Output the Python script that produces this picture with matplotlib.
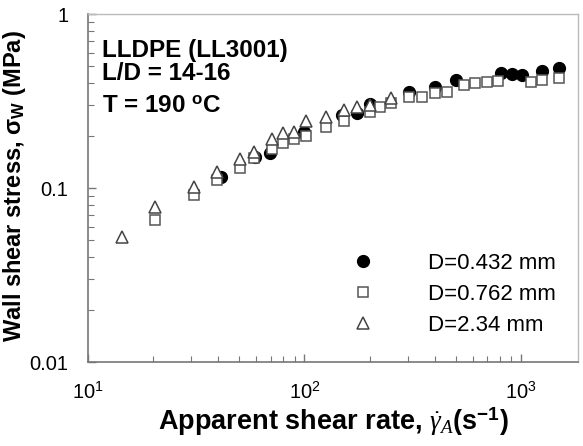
import matplotlib
matplotlib.use("Agg")
import matplotlib.pyplot as plt
from matplotlib.ticker import LogLocator, NullFormatter

plt.rcParams['font.family'] = ['Liberation Sans', 'DejaVu Sans']
plt.rcParams['mathtext.fontset'] = 'custom'
plt.rcParams['mathtext.it'] = 'Liberation Serif:italic'
plt.rcParams['mathtext.rm'] = 'Liberation Sans'
plt.rcParams['mathtext.bf'] = 'Liberation Sans:bold'

# D = 0.432 mm (filled circles)
x_d0432 = [41, 59, 69, 100, 149, 175, 200, 303, 403, 502, 809, 908, 1012, 1250, 1507]
y_d0432 = [0.116, 0.150, 0.158, 0.210, 0.262, 0.270, 0.305, 0.358, 0.379, 0.418,
           0.456, 0.452, 0.446, 0.472, 0.487]

# D = 0.762 mm (open squares)
x_d0762 = [20.4, 30.8, 39.3, 50.2, 58.7, 71, 79.8, 89.3, 102, 126, 153, 200, 223, 251,
           303, 349, 403, 456, 547, 615, 701, 788, 1112, 1250, 1507]
y_d0762 = [0.0655, 0.091, 0.111, 0.131, 0.148, 0.167, 0.182, 0.190, 0.200, 0.225, 0.244,
           0.275, 0.291, 0.307, 0.335, 0.335, 0.350, 0.358, 0.391, 0.403, 0.408, 0.414,
           0.408, 0.418, 0.427]

# D = 2.34 mm (open triangles)
x_d234 = [14.3, 20.4, 30.8, 39.3, 50.2, 58.7, 71, 79.8, 89.3, 102, 126, 153, 175, 200, 251]
y_d234 = [0.0525, 0.0775, 0.101, 0.124, 0.146, 0.162, 0.190, 0.206, 0.211, 0.244, 0.257,
          0.281, 0.291, 0.300, 0.328]

labels = ['D=0.432 mm', 'D=0.762 mm', 'D=2.34 mm']

fig = plt.figure(figsize=(5.83, 4.46), dpi=100)
ax = fig.add_axes([88/583, 1-362/446, 490/583, 348/446])

ax.plot(x_d0432, y_d0432, 'o', ms=8.5, mfc='black', mec='black', ls='none',
        label=labels[0], zorder=2)
ax.plot(x_d0762, y_d0762, 's', ms=7.8, mfc='white', mec='#555555', mew=1.1, ls='none',
        label=labels[1], zorder=3)
ax.plot(x_d234, y_d234, '^', ms=8.5, mfc='white', mec='#444444', mew=1.1, ls='none',
        label=labels[2], zorder=4)

ax.set_xscale('log')
ax.set_yscale('log')
ax.set_xlim(10, 1837)
ax.set_ylim(0.01, 1)

ax.set_yticks([0.01, 0.1, 1])
ax.set_yticklabels(['0.01', '0.1', '1'])
ax.set_xticks([10, 100, 1000])
ax.set_xticklabels(['10$^{\\mathregular{1}}$', '10$^{\\mathregular{2}}$', '10$^{\\mathregular{3}}$'])
ax.xaxis.set_minor_locator(LogLocator(base=10, subs=range(2, 10)))
ax.yaxis.set_minor_locator(LogLocator(base=10, subs=range(2, 10)))
ax.xaxis.set_minor_formatter(NullFormatter())
ax.yaxis.set_minor_formatter(NullFormatter())

ax.tick_params(which='major', direction='in', length=6, width=1, color='#777777',
               labelsize=14.5)
ax.tick_params(which='minor', direction='in', length=4, width=0.8, color='#777777')
ax.tick_params(axis='y', which='major', pad=14)
ax.tick_params(axis='x', which='major', pad=14)

for s in ['left', 'bottom']:
    ax.spines[s].set_color('#777777')
    ax.spines[s].set_linewidth(1.2)
for s in ['top', 'right']:
    ax.spines[s].set_color('#bbbbbb')
    ax.spines[s].set_linewidth(1.0)

ax.set_ylabel('Wall shear stress, σ$_{\\mathregular{W}}$ (MPa)', fontsize=17,
              fontweight='bold', va='center')
ax.yaxis.set_label_coords(-0.151, 0.504)
ax.set_xlabel('Apparent shear rate, $\\dot{\\gamma}_{A}$(s$^{\\mathregular{-1}}$)',
              fontsize=19.5, fontweight='bold', labelpad=2)

ax.text(0.028, 0.877, 'LLDPE (LL3001)', transform=ax.transAxes, fontsize=17.5,
        fontweight='bold', va='baseline', ha='left')
ax.text(0.028, 0.810, 'L/D = 14-16', transform=ax.transAxes, fontsize=17.5,
        fontweight='bold', va='baseline', ha='left')
ax.text(0.028, 0.719, 'T = 190 $^{\\mathregular{o}}$C', transform=ax.transAxes, fontsize=17.5,
        fontweight='bold', va='baseline', ha='left')

leg = ax.legend(loc='upper left', bbox_to_anchor=(0.5386, 0.314), frameon=False,
                fontsize=16, handlelength=1.0, handletextpad=2.43, labelspacing=0.45,
                borderpad=0, borderaxespad=0, numpoints=1)

fig.savefig('out.png', dpi=100)
